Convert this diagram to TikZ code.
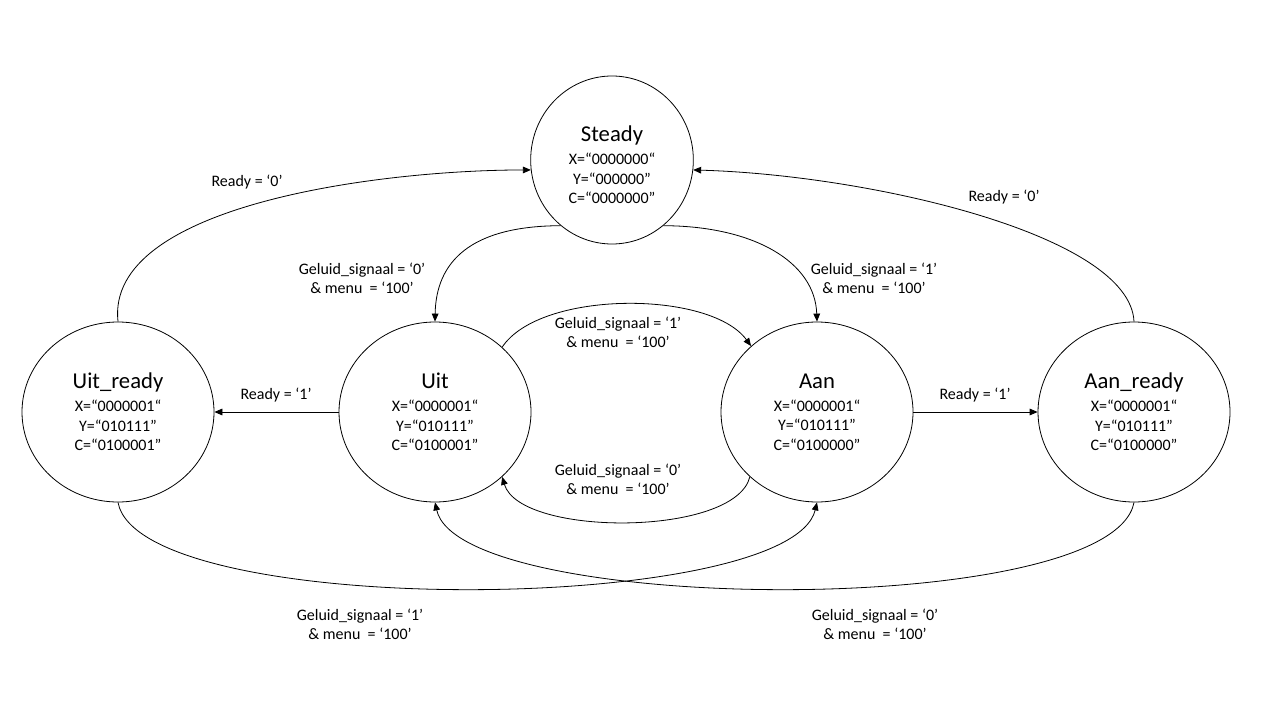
\documentclass[tikz,border=0pt]{standalone}
\usepackage{fontspec}
\setmainfont{Carlito}
\usetikzlibrary{shapes.geometric,arrows.meta}
\begin{document}
\begin{tikzpicture}[x=0.75pt,y=-0.75pt,
  state/.style={draw,ellipse,line width=0.6pt,minimum width=144pt,minimum height=135pt,inner sep=0pt,align=center,font=\fontsize{12}{14.6}\selectfont},
  lbl/.style={align=center,font=\fontsize{12}{14.3}\selectfont,inner sep=0pt},
  tr/.style={line width=0.6pt,-{Triangle[length=6pt,width=5pt]}}]
\useasboundingbox (0,0) rectangle (1280,720);
\newcommand{\ttl}[1]{{\fontsize{17}{19}\selectfont #1}\\[2.5pt]}
\node[state,minimum width=122pt,minimum height=126pt] (steady) at (612,160) {\ttl{\rule{0pt}{19pt}Steady}X=“0000000“\\Y=“000000”\\C=“0000000”};
\node[state] (uitr) at (118,412) {\ttl{Uit\_ready}X=“0000001“\\Y=“010111”\\C=“0100001”};
\node[state] (uit) at (435,412) {\ttl{Uit}X=“0000001“\\Y=“010111”\\C=“0100001”};
\node[state] (aan) at (817,412) {\ttl{Aan}X=“0000001“\\Y=“010111”\\C=“0100000”};
\node[state] (aanr) at (1134,412) {\ttl{Aan\_ready}X=“0000001“\\Y=“010111”\\C=“0100000”};
% edges
\draw[tr] (steady.232) .. controls (470,226) and (436,262) .. (uit.90);
\draw[tr] (steady.308) .. controls (754,226) and (815,262) .. (aan.90);
\draw[tr] (uitr.90) .. controls (105,205) and (380,170) .. (steady.187);
\draw[tr] (aanr.90) .. controls (1130,235) and (870,175) .. (steady.353);
\draw[tr] (uit.180) -- (uitr.0);
\draw[tr] (aan.0) -- (aanr.180);
\draw[tr] (uit.44) .. controls (540,290) and (710,290) .. (aan.135);
\draw[tr] (aan.224) .. controls (735,537) and (520,537) .. (uit.316);
\draw[tr] (uitr.270) .. controls (140,620) and (790,615) .. (aan.270);
\draw[tr] (aanr.270) .. controls (1112,620) and (460,615) .. (uit.270);
% labels
\node[lbl] (l1) at (362,278) {Geluid\_signaal = ‘0’\\\& menu~ = ‘100’};
\node[lbl] (l2) at (874,278) {Geluid\_signaal = ‘1’\\\& menu~ = ‘100’};
\node[lbl] (l3) at (618,332) {Geluid\_signaal = ‘1’\\\& menu~ = ‘100’};
\node[lbl] (l4) at (618,479) {Geluid\_signaal = ‘0’\\\& menu~ = ‘100’};
\node[lbl] (l5) at (360,624) {Geluid\_signaal = ‘1’\\\& menu~ = ‘100’};
\node[lbl] (l6) at (875,624) {Geluid\_signaal = ‘0’\\\& menu~ = ‘100’};
\node[lbl] (l7) at (247,182) {Ready = ‘0’};
\node[lbl] (l8) at (1004,197) {Ready = ‘0’};
\node[lbl] (l9) at (276,395) {Ready = ‘1’};
\node[lbl] (l10) at (975,395) {Ready = ‘1’};
\end{tikzpicture}
\end{document}
